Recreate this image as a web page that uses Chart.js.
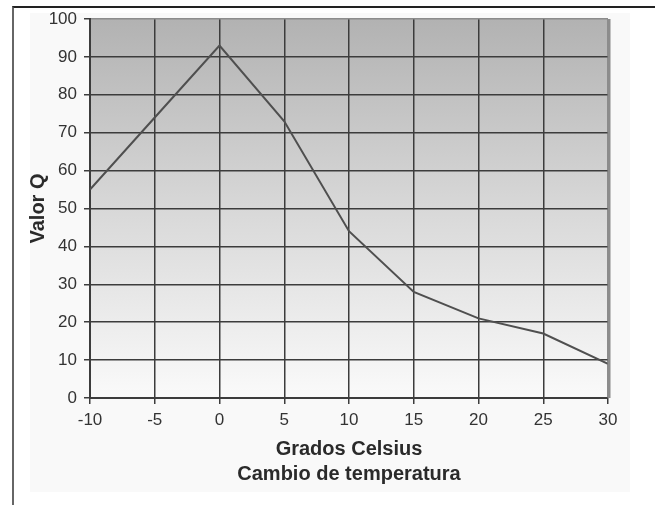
<!DOCTYPE html>
<html>
<head>
<meta charset="utf-8">
<script src="https://cdn.jsdelivr.net/npm/chart.js@4.4.1/dist/chart.umd.min.js"></script>
<style>
  html, body { margin: 0; padding: 0; background: #fff; }
  #wrap { position: relative; width: 655px; height: 505px; }
  #frame { position: absolute; left: 12px; top: 6px; width: 643px; height: 499px;
           border-top: 2px solid #222; border-left: 2px solid #666; box-sizing: border-box; }
  canvas { position: absolute; left: 0; top: 0; }
</style>
</head>
<body>
<div id="wrap">
  <div id="frame"></div>
  <canvas id="myChart" width="655" height="505"></canvas>
</div>
<script>
// Datos
const grados = [-10, -5, 0, 5, 10, 15, 20, 25, 30];
const valorQ = [55, 74, 93, 73, 44, 28, 21, 17, 9];
const ticksY = [0, 10, 20, 30, 40, 50, 60, 70, 80, 90, 100];
const ticksX = [-10, -5, 0, 5, 10, 15, 20, 25, 30];

const fuenteNum = "'Liberation Sans', Arial, sans-serif";
const fuenteTit = "'Liberation Sans', Arial, sans-serif";

// Fondo degradado del área de trazado y borde derecho gris
const fondo = {
  id: 'fondo',
  beforeDraw(chart) {
    const { ctx, chartArea: a } = chart;
    ctx.save();
    ctx.fillStyle = '#f9f9f9';
    ctx.fillRect(30, 13, 600, 479);
    const g = ctx.createLinearGradient(0, a.top, 0, a.bottom);
    g.addColorStop(0, '#b2b2b2');
    g.addColorStop(0.5, '#d8d8d8');
    g.addColorStop(1, '#fafafa');
    ctx.fillStyle = g;
    ctx.fillRect(a.left, a.top, a.right - a.left, a.bottom - a.top);
    ctx.restore();
  },
  afterDatasetsDraw(chart) {
    const { ctx, chartArea: a } = chart;
    ctx.save();
    ctx.strokeStyle = '#8c8c8c';
    ctx.lineWidth = 3;
    ctx.beginPath();
    ctx.moveTo(a.right + 1, a.top);
    ctx.lineTo(a.right + 1, a.bottom);
    ctx.stroke();
    ctx.restore();
  }
};

const canva = document.getElementById('myChart').getContext('2d');
const myChart = new Chart(canva, {
  type: 'line',
  data: {
    datasets: [{
      label: 'Valor Q',
      data: grados.map((x, i) => ({ x: x, y: valorQ[i] })),
      borderColor: '#4f4f4f',
      borderWidth: 2,
      pointRadius: 0,
      tension: 0
    }]
  },
  options: {
    responsive: false,
    animation: false,
    layout: { padding: { left: 26, top: 19, right: 47, bottom: 18 } },
    plugins: {
      legend: { display: false },
      tooltip: { enabled: false }
    },
    scales: {
      x: {
        type: 'linear',
        min: -10, max: 30,
        afterBuildTicks: s => { s.ticks = ticksX.map(v => ({ value: v })); },
        afterFit: s => { s.height = 89; },
        grid: {
          color: c => (c.tick && c.tick.value === 30 ? '#8c8c8c' : '#3c3c3c'),
          lineWidth: 1.5, tickLength: 6, tickColor: '#3c3c3c'
        },
        border: { color: '#3c3c3c', width: 2 },
        ticks: { color: '#333', padding: 6, font: { family: fuenteNum, size: 17 } },
        title: {
          display: true,
          text: ['Grados Celsius', 'Cambio de temperatura'],
          color: '#2a2a2a',
          padding: { top: 0, bottom: 0 },
          font: { family: fuenteTit, size: 20, weight: 'bold', lineHeight: 1.25 }
        }
      },
      y: {
        min: 0, max: 100,
        afterBuildTicks: s => { s.ticks = ticksY.map(v => ({ value: v })); },
        afterFit: s => { s.width = 64; },
        grid: {
          color: c => (c.tick && c.tick.value === 100 ? '#8c8c8c' : '#3c3c3c'),
          lineWidth: 1.5, tickLength: 6, tickColor: '#3c3c3c'
        },
        border: { color: '#3c3c3c', width: 2 },
        ticks: { color: '#333', padding: 7, font: { family: fuenteNum, size: 17 } },
        title: {
          display: true,
          text: 'Valor Q',
          color: '#2a2a2a',
          padding: { top: 0, bottom: 0 },
          font: { family: fuenteTit, size: 20, weight: 'bold', lineHeight: 1.2 }
        }
      }
    }
  },
  plugins: [fondo]
});
</script>
</body>
</html>
